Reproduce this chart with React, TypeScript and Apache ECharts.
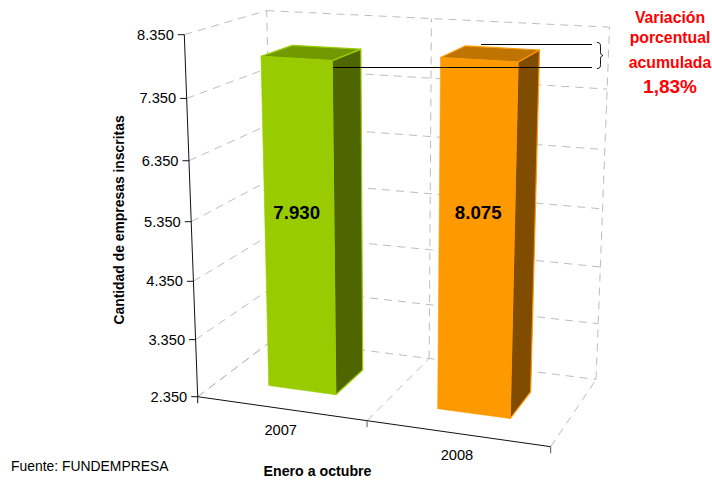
import React, { useEffect, useRef } from "react";
import * as echarts from "echarts";

const categories = ["2007", "2008"];
const values = [7930, 8075];
const valueLabels = ["7.930", "8.075"];
const yTicks = [2350, 3350, 4350, 5350, 6350, 7350, 8350];
const yTickLabels = ["2.350", "3.350", "4.350", "5.350", "6.350", "7.350", "8.350"];
const faceColors = [
  { front: "#99CC00", side: "#4F6600", top: "#739900" },
  { front: "#FF9900", side: "#804D00", top: "#BF7300" },
];
const FONT = '"Liberation Sans", Arial, sans-serif';

// Projection of the chart's box (u along the categories, v up the values, d into the page)
const O = [197.7, 396.7];
const A = [550.7, 446.7];
const B = [184.3, 34.7];
const C = [274, 339];
const pa = -0.078, pb = -0.064, pc = 0.107;
const project = (u: number, v: number, d: number): [number, number] => {
  const D = 1 + pa * u + pb * v + pc * d;
  const f = (i: number) =>
    O[i] +
    u * (A[i] * (1 + pa) - O[i]) +
    v * (B[i] * (1 + pb) - O[i]) +
    d * (C[i] * (1 + pc) - O[i]);
  return [f(0) / D, f(1) / D];
};

const GRID = { left: 100, top: 40, width: 400, height: 400 };
const BAR_RATIO = 0.406;
const D0 = 0.285;
const D1 = 0.69;
const LABEL_SHIFT = [-2.5, 2];

const line = (p: number[], q: number[], style: any, z2 = 0) => ({
  type: "line",
  silent: true,
  z2,
  shape: { x1: p[0], y1: p[1], x2: q[0], y2: q[1] },
  style: { fill: null, ...style },
});
const dash = { stroke: "#BDBDBD", lineWidth: 1, lineDash: [8, 6] };
const solid = { stroke: "#111111", lineWidth: 1 };

const toV = (api: any, val: number) => {
  const py = api.coord([0, val])[1];
  return 1 - (py - GRID.top) / GRID.height;
};

const renderFrame = (_p: any, api: any) => {
  const children: any[] = [];
  const vs = yTicks.map((t) => toV(api, t));
  vs.forEach((v) => {
    children.push(line(project(0, v, 0), project(0, v, 1), dash));
    children.push(line(project(0, v, 1), project(1, v, 1), dash));
  });
  [0, 0.5, 1].forEach((u) => {
    children.push(line(project(u, 0, 0), project(u, 0, 1), dash));
    children.push(line(project(u, 0, 1), project(u, 1, 1), dash));
  });
  children.push(line(project(0, 0, 0), project(0, 1, 0), solid, 5));
  children.push(line(project(0, 0, 0), project(1, 0, 0), solid, 5));
  [0, 0.5, 1].forEach((u) => {
    const p = project(u, 0, 0);
    children.push(line(p, [p[0], p[1] + 6.5], { ...solid, stroke: u === 0 ? "#111111" : "#555555" }, 5));
  });
  vs.forEach((v, i) => {
    const p = project(0, v, 0);
    children.push(line([p[0] - 6.5, p[1]], p, solid, 5));
    children.push({
      type: "text",
      silent: true,
      x: p[0] - 10.5,
      y: p[1],
      style: {
        text: yTickLabels[i],
        fill: "#000000",
        fontFamily: FONT,
        fontSize: 14.67,
        align: "right",
        verticalAlign: "middle",
      },
    });
  });
  categories.forEach((c, i) => {
    const px = api.coord([i, yTicks[0]])[0];
    const u = (px - GRID.left) / GRID.width;
    const p = project(u, 0, 0);
    children.push({
      type: "text",
      silent: true,
      x: p[0],
      y: p[1] + 22,
      style: {
        text: c,
        fill: "#000000",
        fontFamily: FONT,
        fontSize: 14.67,
        align: "center",
        verticalAlign: "middle",
      },
    });
  });
  return { type: "group", children };
};

const renderBar = (params: any, api: any) => {
  const i = params.dataIndex;
  const val = api.value(1);
  const pt = api.coord([api.value(0), val]);
  const band = api.size([1, 0])[0];
  const uc = (pt[0] - GRID.left) / GRID.width;
  const hw = ((band / GRID.width) * BAR_RATIO) / 2;
  const u0 = uc - hw;
  const u1 = uc + hw;
  const v = 1 - (pt[1] - GRID.top) / GRID.height;
  const col = faceColors[i];
  const face = (pts: number[][], fill: string) => ({
    type: "polygon",
    silent: true,
    shape: { points: pts },
    style: { fill, stroke: col.front, lineWidth: 1.2, lineJoin: "round" },
  });
  const mid = project(uc, v / 2, D0);
  return {
    type: "group",
    children: [
      face([project(u1, 0, D0), project(u1, 0, D1), project(u1, v, D1), project(u1, v, D0)], col.side),
      face([project(u0, v, D0), project(u1, v, D0), project(u1, v, D1), project(u0, v, D1)], col.top),
      {
        type: "polygon",
        silent: true,
        shape: { points: [project(u0, 0, D0), project(u1, 0, D0), project(u1, v, D0), project(u0, v, D0)] },
        style: { fill: col.front, stroke: col.front, lineWidth: 0.6 },
      },
      {
        type: "text",
        silent: true,
        z2: 5,
        x: mid[0] + LABEL_SHIFT[i],
        y: 212,
        style: {
          text: valueLabels[i],
          fill: "#000000",
          fontFamily: FONT,
          fontSize: 18.67,
          fontWeight: "bold",
          align: "center",
          verticalAlign: "middle",
        },
      },
    ],
  };
};

echarts.graphic.registerShape(
  "brace",
  echarts.graphic.extendPath(
    "M0 0 C3 0 3.5 1.5 3.5 4 L3.5 9 C3.5 11.5 4 12.5 6 13 C4 13.5 3.5 14.5 3.5 17 L3.5 22 C3.5 24.5 3 26 0 26" as any,
    {}
  ) as any
);

const redText = (text: string, y: number, size: number) => ({
  type: "text",
  z: 20,
  silent: true,
  x: 670,
  y,
  style: {
    text,
    fill: "#FF0000",
    fontFamily: FONT,
    fontSize: size,
    fontWeight: "bold",
    align: "center",
    verticalAlign: "middle",
  },
});

export default function App() {
  const ref = useRef<HTMLDivElement>(null);
  useEffect(() => {
    if (!ref.current) return;
    const chart = echarts.init(ref.current, undefined, { renderer: "svg" });
    chart.setOption({
      animation: false,
      backgroundColor: "#FFFFFF",
      grid: { ...GRID, show: false },
      xAxis: { type: "category", data: categories, show: false },
      yAxis: { type: "value", min: yTicks[0], max: yTicks[yTicks.length - 1], show: false },
      tooltip: { show: false },
      series: [
        {
          type: "custom",
          z: 1,
          clip: false,
          silent: true,
          coordinateSystem: "cartesian2d",
          renderItem: renderFrame,
          data: [[0, yTicks[0]]],
        },
        {
          type: "custom",
          z: 2,
          clip: false,
          silent: true,
          coordinateSystem: "cartesian2d",
          renderItem: renderBar,
          encode: { x: 0, y: 1 },
          data: values.map((v, i) => [i, v]),
        },
      ],
      graphic: [
        { type: "line", z: 20, silent: true, shape: { x1: 333, y1: 67.5, x2: 592, y2: 67.5 }, style: { stroke: "#000000", lineWidth: 1 } },
        { type: "line", z: 20, silent: true, shape: { x1: 481, y1: 44.5, x2: 592, y2: 44.5 }, style: { stroke: "#000000", lineWidth: 1 } },
        { type: "brace", z: 20, silent: true, x: 597, y: 42.5, style: { fill: "none", stroke: "#111111", lineWidth: 1 } },
        redText("Variación", 17.5, 15.8),
        redText("porcentual", 37.5, 15.8),
        redText("acumulada", 62, 15.8),
        redText("1,83%", 86, 19),
        {
          type: "text",
          z: 20,
          silent: true,
          x: 119,
          y: 220,
          rotation: Math.PI / 2,
          style: {
            text: "Cantidad de empresas inscritas",
            fill: "#000000",
            fontFamily: FONT,
            fontSize: 13.9,
            fontWeight: "bold",
            align: "center",
            verticalAlign: "middle",
          },
        },
        {
          type: "text",
          z: 20,
          silent: true,
          x: 317.5,
          y: 470.5,
          style: {
            text: "Enero a octubre",
            fill: "#000000",
            fontFamily: FONT,
            fontSize: 14.2,
            fontWeight: "bold",
            align: "center",
            verticalAlign: "middle",
          },
        },
        {
          type: "text",
          z: 20,
          silent: true,
          x: 11,
          y: 466,
          style: {
            text: "Fuente: FUNDEMPRESA",
            fill: "#000000",
            fontFamily: FONT,
            fontSize: 13.9,
            align: "left",
            verticalAlign: "middle",
          },
        },
      ],
    });
    return () => chart.dispose();
  }, []);
  return <div ref={ref} style={{ position: "absolute", left: 0, top: 0, width: 712, height: 480 }} />;
}
